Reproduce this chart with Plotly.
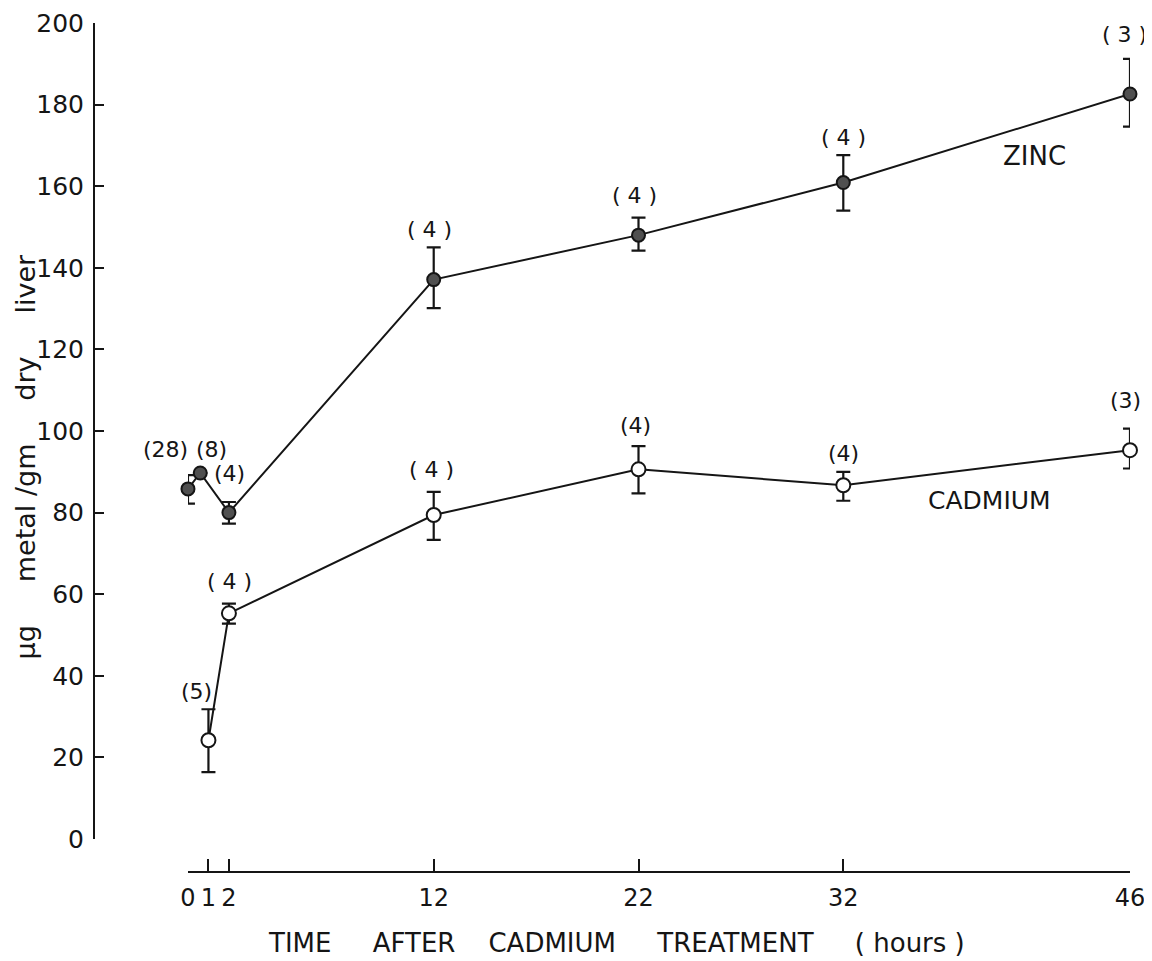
import plotly.graph_objects as go

# ---- data ----
zinc_t = [0, 0.6, 2, 12, 22, 32, 46]
zinc_mean = [85.8, 89.7, 80.0, 137.1, 148.0, 160.9, 182.6]
zinc_err_plus = [3.4, 0, 2.6, 7.9, 4.3, 6.7, 8.6]
zinc_err_minus = [3.6, 0, 2.7, 7.0, 3.8, 6.9, 8.0]
zinc_n = ["(28)", "(8)", "(4)", "( 4 )", "( 4 )", "( 4 )", "( 3 )"]

cad_t = [1, 2, 12, 22, 32, 46]
cad_mean = [24.2, 55.3, 79.4, 90.6, 86.7, 95.3]
cad_err_plus = [7.6, 2.4, 5.7, 5.7, 3.3, 5.3]
cad_err_minus = [7.8, 2.5, 6.1, 5.9, 3.8, 4.5]
cad_n = ["(5)", "( 4 )", "( 4 )", "(4)", "(4)", "(3)"]

x_ticks = [0, 1, 2, 12, 22, 32, 46]
y_ticks = [0, 20, 40, 60, 80, 100, 120, 140, 160, 180, 200]

# label offsets (pixels) - styling only
zinc_lab_dy = [26, 24, 28, 18, 22, 18, 24]
zinc_lab_dx = [-22, 11, 1, -4, -4, 0, -5]
cad_lab_dy = [18, 22, 22, 21, 18, 28]
cad_lab_dx = [-12, 1, -2, -3, 0, -4]

FONT = "DejaVu Sans, sans-serif"
INK = "#151515"

fig = go.Figure()

fig.add_trace(go.Scatter(
    x=zinc_t, y=zinc_mean, mode="lines+markers", name="ZINC",
    line=dict(color=INK, width=2),
    marker=dict(size=13, color="#505050", line=dict(color=INK, width=2)),
    error_y=dict(type="data", symmetric=False, array=zinc_err_plus,
                 arrayminus=zinc_err_minus, color=INK, thickness=2.2, width=7),
    cliponaxis=False, showlegend=False,
))
fig.add_trace(go.Scatter(
    x=cad_t, y=cad_mean, mode="lines+markers", name="CADMIUM",
    line=dict(color=INK, width=2),
    marker=dict(size=14, color="white", line=dict(color=INK, width=2)),
    error_y=dict(type="data", symmetric=False, array=cad_err_plus,
                 arrayminus=cad_err_minus, color=INK, thickness=2.2, width=7),
    cliponaxis=False, showlegend=False,
))

annotations = []
for t, m, ep, lab, dy, dx in zip(zinc_t, zinc_mean, zinc_err_plus, zinc_n, zinc_lab_dy, zinc_lab_dx):
    annotations.append(dict(x=t, y=m + ep, xref="x", yref="y", text=lab, showarrow=False,
                            yanchor="middle", xanchor="center", yshift=dy, xshift=dx,
                            font=dict(family=FONT, size=22, color=INK)))
for t, m, ep, lab, dy, dx in zip(cad_t, cad_mean, cad_err_plus, cad_n, cad_lab_dy, cad_lab_dx):
    annotations.append(dict(x=t, y=m + ep, xref="x", yref="y", text=lab, showarrow=False,
                            yanchor="middle", xanchor="center", yshift=dy, xshift=dx,
                            font=dict(family=FONT, size=22, color=INK)))

annotations += [
    dict(x=41.36, y=167.3, xref="x", yref="y", text="ZINC", showarrow=False,
         xanchor="center", yanchor="middle",
         font=dict(family=FONT, size=26, color=INK)),
    dict(x=39.16, y=83.0, xref="x", yref="y", text="CADMIUM", showarrow=False,
         xanchor="center", yanchor="middle",
         font=dict(family=FONT, size=25, color=INK)),
    dict(x=0.504, y=-0.0833, xref="paper", yref="paper",
         text="TIME     AFTER    CADMIUM     TREATMENT     ( hours )", showarrow=False,
         xanchor="center", yanchor="middle",
         font=dict(family=FONT, size=26, color=INK)),
    dict(x=-0.0657, y=0.4894, xref="paper", yref="paper", textangle=-90,
         text="\u00b5g     metal /gm     dry     liver", showarrow=False,
         xanchor="center", yanchor="middle",
         font=dict(family=FONT, size=27, color=INK)),
]

fig.update_layout(
    width=1152, height=961,
    margin=dict(l=86, r=30, t=15, b=97, autoexpand=False),
    paper_bgcolor="white", plot_bgcolor="white",
    font=dict(family=FONT, size=24, color=INK),
    annotations=annotations,
    xaxis=dict(domain=[0.0907, 1.0], range=[0, 46], anchor="free", position=0,
               showline=True, linewidth=2, linecolor=INK, showgrid=False, zeroline=False,
               ticks="inside", ticklen=12, tickwidth=2, tickcolor=INK,
               tickvals=x_ticks, ticktext=[str(v) for v in x_ticks],
               ticklabelstandoff=4, ticklabeloverflow="allow",
               tickfont=dict(family=FONT, size=24, color=INK)),
    yaxis=dict(domain=[0.0389, 1.0], range=[0, 200], anchor="free", position=0,
               showline=True, linewidth=2, linecolor=INK, showgrid=False, zeroline=False,
               ticks="inside", ticklen=9, tickwidth=2, tickcolor=INK,
               tickvals=y_ticks, ticktext=[str(v) for v in y_ticks],
               ticklabelstandoff=4, ticklabeloverflow="allow",
               tickfont=dict(family=FONT, size=25, color=INK)),
)

fig.write_html("out.html")
